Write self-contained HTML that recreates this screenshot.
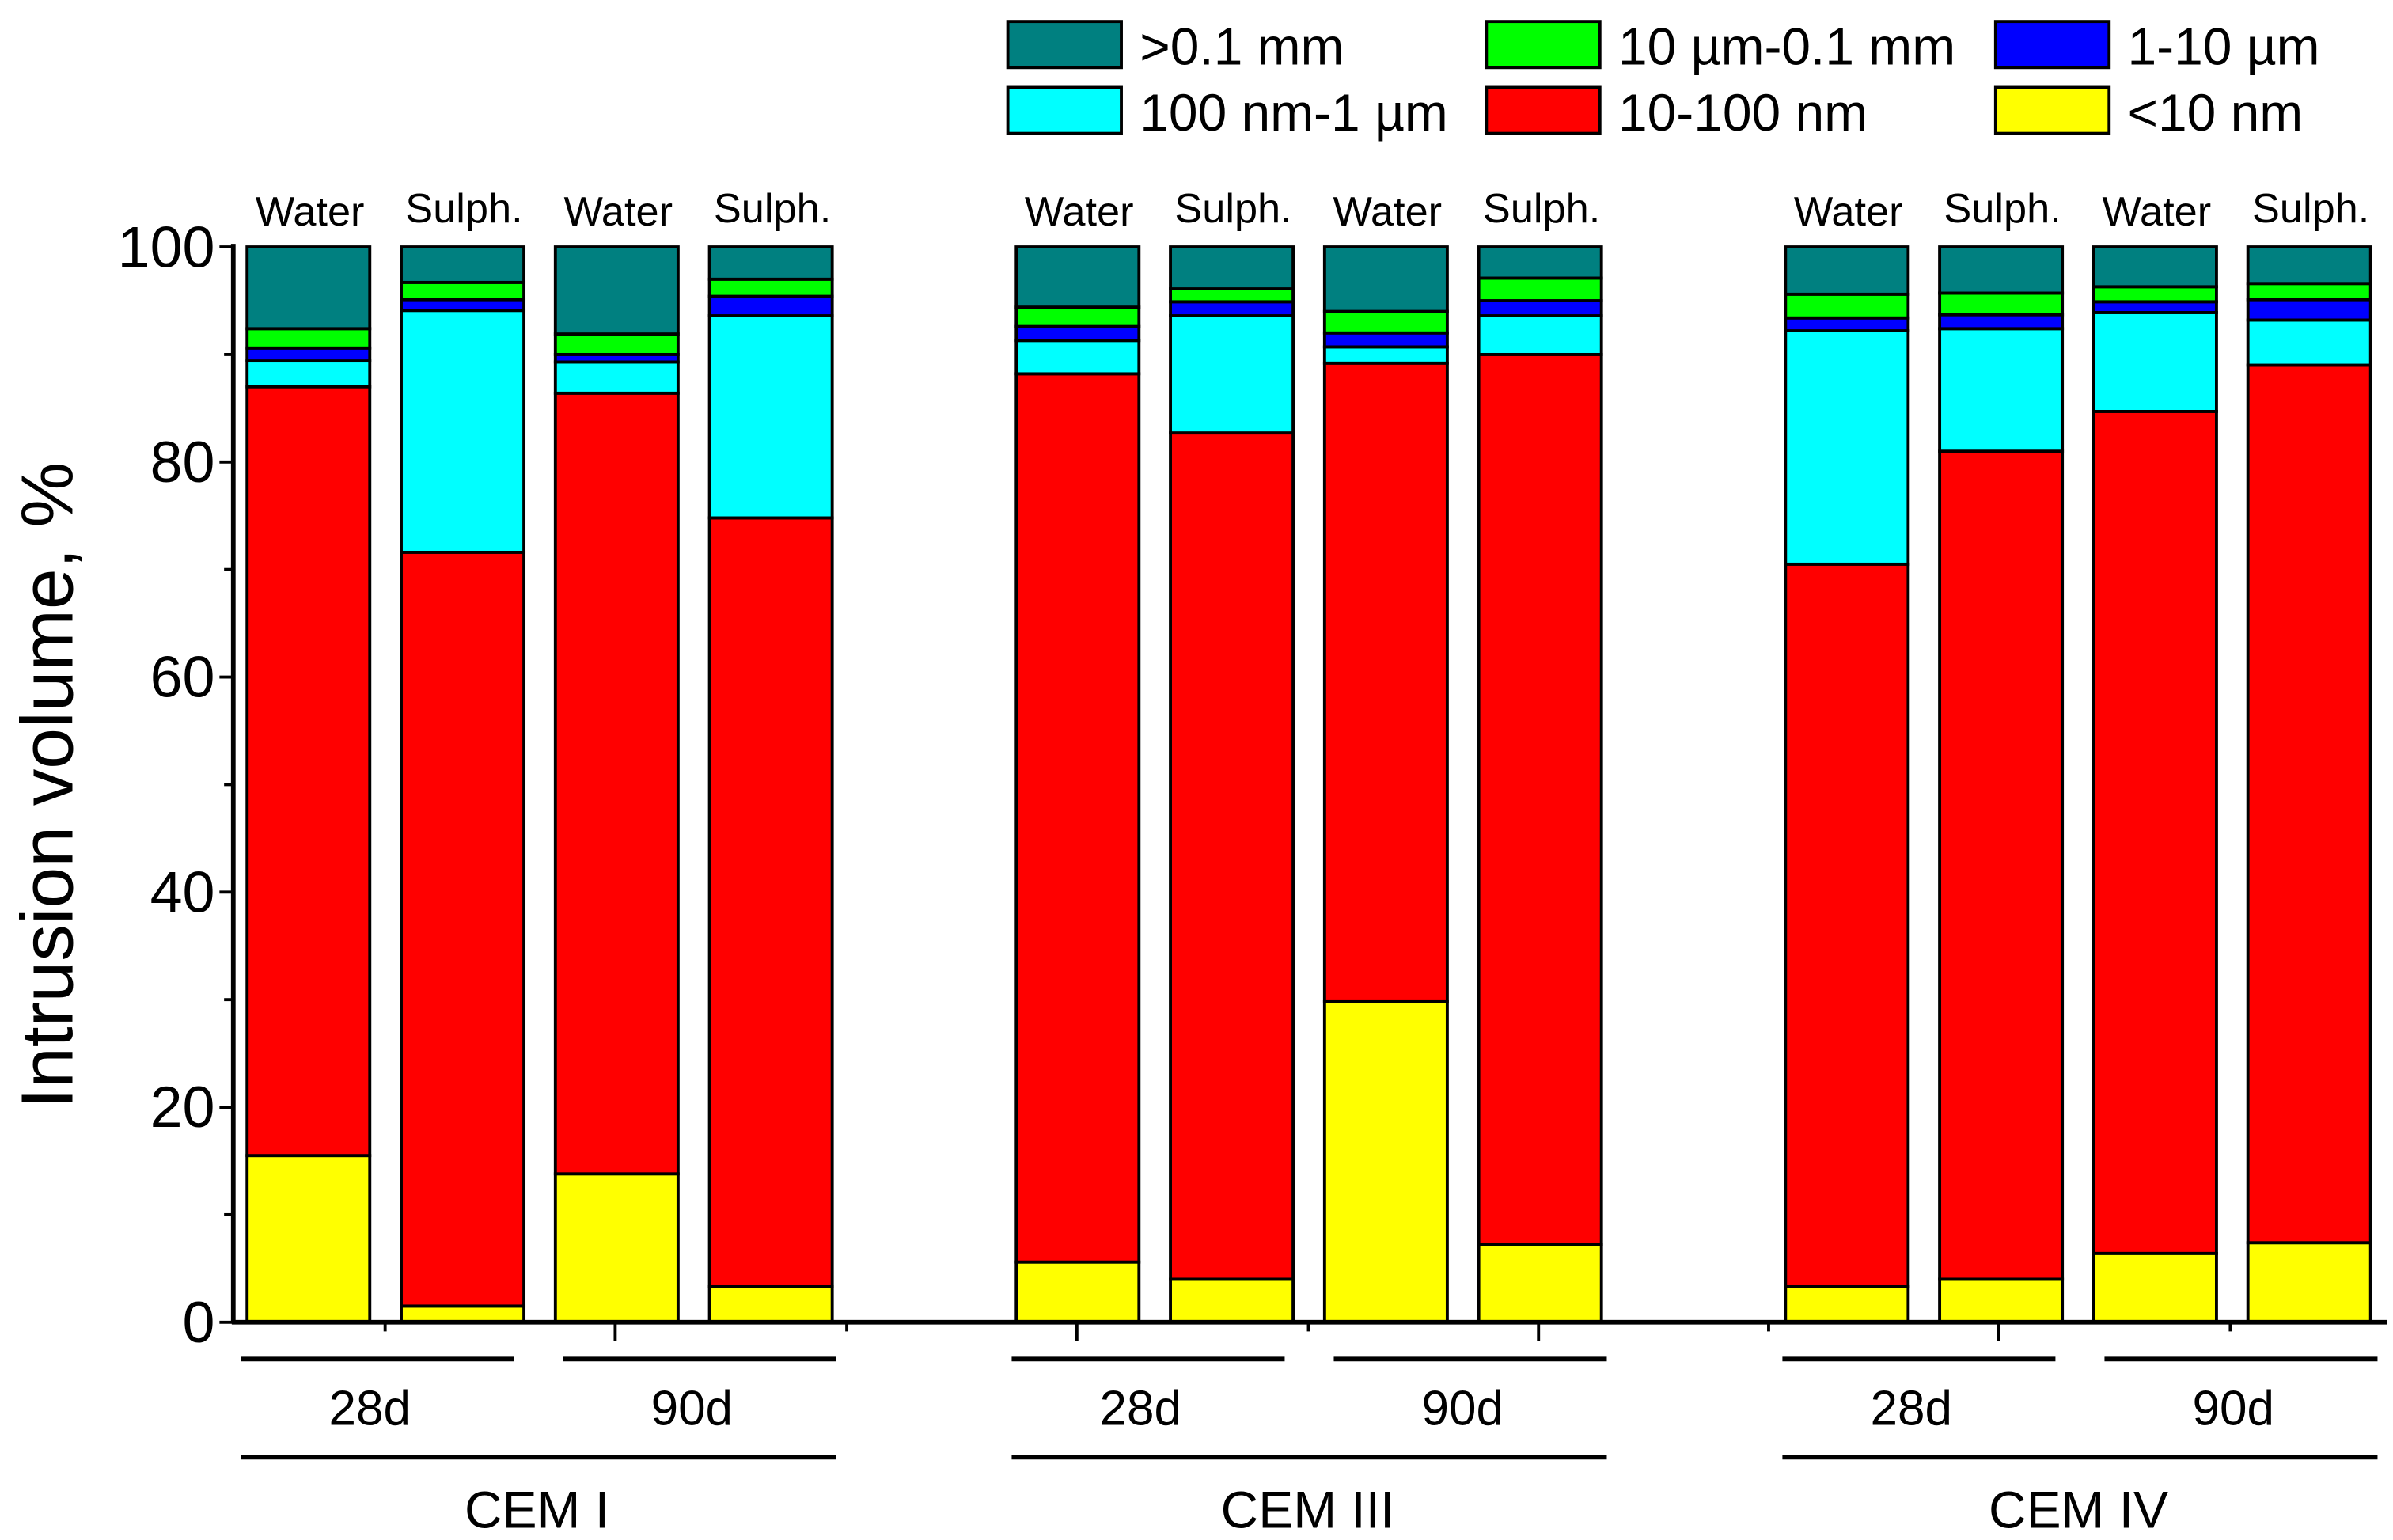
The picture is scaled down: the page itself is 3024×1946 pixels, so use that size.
<!DOCTYPE html>
<html><head><meta charset="utf-8"><style>
html,body{margin:0;padding:0;background:#fff;}
svg{display:block;font-family:"Liberation Sans",Arial,sans-serif;}
</style></head><body>
<svg id="chart" width="3024" height="1946" viewBox="0 0 1560 1004" xmlns="http://www.w3.org/2000/svg">
<g id="legend"></g>
<g id="bars"></g>
<g id="axes"></g>
<text transform="translate(47,512) rotate(-90)" text-anchor="middle" font-size="48">Intrusion volume, %</text>
</svg>
<script>
const categories = ["CEM I 28d Water","CEM I 28d Sulph.","CEM I 90d Water","CEM I 90d Sulph.","CEM III 28d Water","CEM III 28d Sulph.","CEM III 90d Water","CEM III 90d Sulph.","CEM IV 28d Water","CEM IV 28d Sulph.","CEM IV 90d Water","CEM IV 90d Sulph."];
const barLabels = ["Water","Sulph.","Water","Sulph.","Water","Sulph.","Water","Sulph.","Water","Sulph.","Water","Sulph."];
const seriesNames = ["<10 nm","10-100 nm","100 nm-1 µm","1-10 µm","10 µm-0.1 mm",">0.1 mm"];
const lt10nm   = [15.5,1.5,13.8,3.3,5.6,4.0,29.8,7.2,3.3,4.0,6.4,7.4];
const nm10_100 = [71.5,70.1,72.6,71.5,82.6,78.7,59.4,82.8,67.2,77.0,78.3,81.6];
const nm100_1um= [2.4,22.5,2.9,18.8,3.1,10.9,1.5,3.6,21.7,11.4,9.2,4.2];
const um1_10   = [1.2,1.0,0.7,1.8,1.3,1.3,1.3,1.4,1.2,1.3,1.0,1.9];
const um10_01mm= [1.8,1.6,1.9,1.6,1.8,1.2,2.0,2.1,2.2,2.0,1.4,1.5];
const gt01mm   = [7.6,3.3,8.1,3.0,5.6,3.9,6.0,2.9,4.4,4.3,3.7,3.4];
const yTicks = [0,20,40,60,80,100];
const groupNames = ["CEM I","CEM III","CEM IV"];
const ageNames = ["28d","90d"];
const series = [lt10nm,nm10_100,nm100_1um,um1_10,um10_01mm,gt01mm];
const colors = ["#ffff00","#ff0000","#00ffff","#0000ff","#00ff00","#008080"];
const NS="http://www.w3.org/2000/svg";
const y0=862, y100=161;
function yScale(v){return y0-(y0-y100)*v/100;}
function xCenter(i){const g=Math.floor(i/4), k=i%4; return 201+g*501.5+k*100.5;}
function mk(tag,attrs,parent){const e=document.createElementNS(NS,tag);for(const k in attrs)e.setAttribute(k,attrs[k]);parent.appendChild(e);return e;}
const bars=document.getElementById('bars'), axes=document.getElementById('axes'), legend=document.getElementById('legend');
const bw=80;
categories.forEach((c,i)=>{
  let cum=0; const xc=xCenter(i);
  series.forEach((s,j)=>{
    const v=s[i]; const top=yScale(cum+v), bot=yScale(cum);
    const r=mk('rect',{x:xc-bw/2,y:top,width:bw,height:bot-top,fill:colors[j],stroke:'#000','stroke-width':2},bars);
    
    
    cum+=v;
  });
  const t=mk('text',{x:xc+1,y:147-(i%4===1||i%4===3?2:0),'text-anchor':'middle','font-size':27},bars);
  t.textContent=barLabels[i];
  
  
});
let l=mk('line',{x1:152,y1:y0,x2:152,y2:y100-2,stroke:'#000','stroke-width':3},axes);


yTicks.forEach(v=>{
  const y=yScale(v);
  mk('line',{x1:143,y1:y,x2:152,y2:y,stroke:'#000','stroke-width':2},axes);
  const t=mk('text',{x:140,y:y+13,'text-anchor':'end','font-size':38},axes);
  t.textContent=v;
  
  
});
for(let v=10;v<100;v+=20){const y=yScale(v);mk('line',{x1:146,y1:y,x2:152,y2:y,stroke:'#000','stroke-width':2},axes);}
l=mk('line',{x1:151,y1:y0,x2:1556,y2:y0,stroke:'#000','stroke-width':3},axes);


[401,702,1003,1303].forEach(x=>mk('line',{x1:x,y1:y0,x2:x,y2:874,stroke:'#000','stroke-width':2},axes));
[251,552,853,1153,1454].forEach(x=>mk('line',{x1:x,y1:y0,x2:x,y2:868,stroke:'#000','stroke-width':2},axes));
groupNames.forEach((g,gi)=>{
  const off=gi*502.5;
  ageNames.forEach((a,ai)=>{
    const x1=157+off+ai*210, x2=x1+178;
    mk('line',{x1:x1,y1:886,x2:x2,y2:886,stroke:'#000','stroke-width':3},axes);
    const t=mk('text',{x:(x1+x2)/2-5,y:929,'text-anchor':'middle','font-size':32},axes);
    t.textContent=a;
    
    
  });
  mk('line',{x1:157+off,y1:950,x2:545+off,y2:950,stroke:'#000','stroke-width':3},axes);
  const t=mk('text',{x:350+off,y:996,'text-anchor':'middle','font-size':34},axes);
  t.textContent=g;
  
  
});
const legOrder=[5,4,3,2,1,0];
legOrder.forEach((si,k)=>{
  const col=k%3,row=Math.floor(k/3);
  const lx=[657,969,1301][col], ly=[14,57][row];
  const r=mk('rect',{x:lx,y:ly,width:74,height:30,fill:colors[si],stroke:'#000','stroke-width':2},legend);
  
  
  const t=mk('text',{x:lx+86,y:ly+28,'font-size':34},legend);
  t.textContent=seriesNames[si];
  
  
});
</script>
</body></html>
